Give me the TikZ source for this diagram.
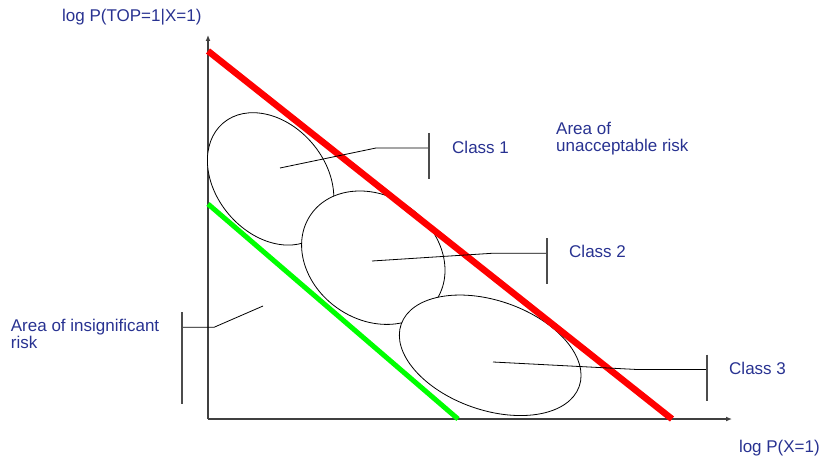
\documentclass[tikz,border=0pt]{standalone}
\usepackage{fontspec}
\setmainfont{Liberation Sans}
\usetikzlibrary{arrows.meta,shapes.geometric}
\definecolor{riskred}{RGB}{255,0,0}
\definecolor{riskgreen}{RGB}{0,255,0}
\definecolor{lblblue}{RGB}{40,50,145}
\tikzset{
  axis/.style={draw=black!75, line width=1.2pt, -{Latex[length=6pt,width=5pt]}},
  classell/.style={draw=black, line width=0.8pt, fill=white, ellipse, inner sep=0pt},
  bound/.style={line width=6.5pt},
  leader/.style={draw=black, line width=0.8pt},
  tickbar/.style={draw=black!70, line width=1.1pt},
  lbl/.style={text=lblblue, font=\fontsize{17}{17.2}\selectfont, inner sep=0pt, align=left},
}

\begin{document}
\begin{tikzpicture}[x=1pt,y=1pt]
  \useasboundingbox (-208,-39) rectangle (616,419);
  % axes
  \coordinate (o) at (0,0);
  \coordinate (ytip) at (0,384);
  \coordinate (xtip) at (524,0);
  \draw[axis] (o) -- (ytip);
  \draw[axis] (o) -- (xtip);
  \node[lbl, anchor=west] (ylab) at (-146,401.7) {log P(TOP=1|X=1)};
  \node[lbl, anchor=east] (xlab) at (612,-29.3) {log P(X=1)};

  % risk classes
  \node[classell, minimum width=146.6pt, minimum height=109.6pt, rotate=-49.7] (e1) at (62.6,240.1) {};
  \node[classell, minimum width=151.8pt, minimum height=123.8pt, rotate=-34.5] (e2) at (165.3,161.3) {};
  \node[classell, minimum width=188.6pt, minimum height=109.4pt, rotate=-19.2] (e3) at (282.2,63.7) {};

  % limit lines
  \coordinate (rtop) at (0,368);
  \coordinate (rbot) at (464,0);
  \coordinate (gtop) at (0,215);
  \coordinate (gbot) at (250,0);
  \draw[bound, riskred] (rtop) -- (rbot);
  \draw[bound, riskgreen, line width=5pt] (gtop) -- (gbot);

  % leaders
  \coordinate (c1a) at (72,251);
  \coordinate (c1b) at (168,271);
  \coordinate (c1c) at (221,271);
  \draw[leader] (c1a) -- (c1b) -- (c1c);
  \draw[tickbar] ([yshift=15pt]c1c) -- ([yshift=-31pt]c1c);
  \node[lbl, anchor=west] (cls1) at (244,272) {Class 1};

  \coordinate (c2a) at (164,158);
  \coordinate (c2b) at (284,165.7);
  \coordinate (c2c) at (339,165.7);
  \draw[leader] (c2a) -- (c2b) -- (c2c);
  \draw[tickbar] ([yshift=15pt]c2c) -- ([yshift=-31pt]c2c);
  \node[lbl, anchor=west] (cls2) at (361,168) {Class 2};

  \coordinate (c3a) at (285,57);
  \coordinate (c3b) at (429,49.5);
  \coordinate (c3c) at (499,49.5);
  \draw[leader] (c3a) -- (c3b) -- (c3c);
  \draw[tickbar] ([yshift=15pt]c3c) -- ([yshift=-31pt]c3c);
  \node[lbl, anchor=west] (cls3) at (521,51) {Class 3};

  \coordinate (ia) at (55,113);
  \coordinate (ib) at (6,91.7);
  \coordinate (ic) at (-26,91.7);
  \draw[leader] (ia) -- (ib) -- (ic);
  \draw[tickbar] ([yshift=15pt]ic) -- ([yshift=-77pt]ic);
  \node[lbl, anchor=north west] (insig) at (-197.3,100.3) {Area of insignificant\\risk};

  \node[lbl, anchor=north west] (unacc) at (348,297) {Area of\\unacceptable risk};
\end{tikzpicture}
\end{document}
